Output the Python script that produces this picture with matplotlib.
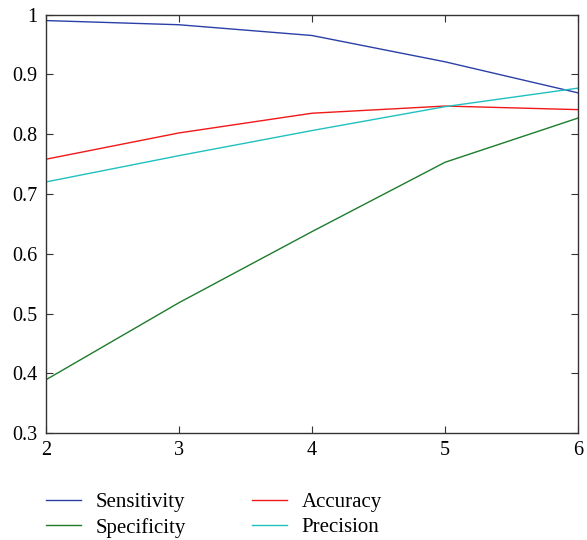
import matplotlib
matplotlib.use("Agg")
import matplotlib.pyplot as plt

# ---- data ----
x_vals = [2, 3, 4, 5, 6]
sensitivity = [0.990, 0.983, 0.965, 0.921, 0.869]
specificity = [0.389, 0.518, 0.637, 0.753, 0.827]
accuracy = [0.758, 0.802, 0.835, 0.847, 0.841]
precision = [0.720, 0.764, 0.806, 0.846, 0.877]

plt.rcParams["font.family"] = ["Liberation Serif", "DejaVu Serif"]

fig = plt.figure(figsize=(5.87, 5.40), dpi=100)
ax = fig.add_axes([0.078, 0.198, 0.907, 0.775])

l1, = ax.plot(x_vals, sensitivity, color="#2b3fa8", lw=1.0, label="Sensitivity")
l2, = ax.plot(x_vals, specificity, color="#1c7c2c", lw=1.0, label="Specificity")
l3, = ax.plot(x_vals, accuracy, color="#f01818", lw=1.0, label="Accuracy")
l4, = ax.plot(x_vals, precision, color="#20c0c0", lw=1.0, label="Precision")

ax.set_xlim(2, 6)
ax.set_ylim(0.3, 1.0)
ax.set_xticks([2, 3, 4, 5, 6])
ax.set_yticks([0.3, 0.4, 0.5, 0.6, 0.7, 0.8, 0.9, 1.0])
ax.set_yticklabels(["0.3", "0.4", "0.5", "0.6", "0.7", "0.8", "0.9", "1"])
ax.tick_params(direction="in", top=True, right=True, labelsize=14.5, length=5,
               width=0.8, color="#333333", pad=6)
for s in ax.spines.values():
    s.set_color("#333333")
    s.set_linewidth(1.0)

# ---- legend below ----
fig.legend(handles=[l1, l2, l3, l4], loc="upper left",
           bbox_to_anchor=(0.047, 0.122), ncol=2, frameon=False,
           fontsize=15, handlelength=1.65, handletextpad=0.7,
           columnspacing=3.2, labelspacing=0.25)

fig.savefig("out.png", dpi=100)
plt.close(fig)
